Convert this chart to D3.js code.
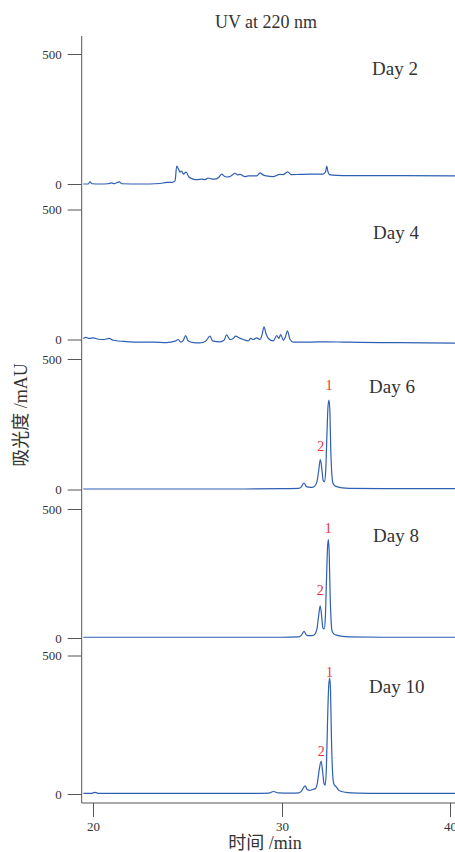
<!DOCTYPE html>
<html>
<head>
<meta charset="utf-8">
<script src="https://cdn.jsdelivr.net/npm/d3@7/dist/d3.min.js"></script>
<style>
  html, body { margin: 0; padding: 0; background: #fff; }
  svg { display: block; }
  text { font-family: "Liberation Serif", "Times New Roman", "Noto Sans CJK SC", serif; fill: #333; }
</style>
</head>
<body>
<svg id="chart" width="455" height="852"></svg>
<script>
// ---------------- DATA ----------------
const chartTitle = "UV at 220 nm";
const xTitle = "时间 /min";
const yTitle = "吸光度 /mAU";
const xTickValues = [20, 30, 40];
const yTickValues = [0, 500];
const dayLabels = ["Day 2", "Day 4", "Day 6", "Day 8", "Day 10"];

// each series: [time (min), absorbance (mAU)]
const day2 = [[19.49,0],[19.74,0],[19.84,8],[19.95,1],[20.37,0],[20.79,1],[20.99,4],[21.11,1],[21.39,8],[21.53,1],[22.49,0],[23.54,2],[23.9,6],[24.18,6],[24.34,12],[24.43,69],[24.52,58],[24.6,46],[24.69,50],[24.78,38],[24.92,46],[25.08,27],[25.29,19],[25.5,17],[25.75,19],[25.93,17],[26.08,23],[26.3,19],[26.54,20],[26.67,27],[26.81,38],[26.93,31],[27.07,27],[27.25,29],[27.51,41],[27.65,35],[27.78,37],[28.04,28],[28.2,31],[28.4,31],[28.66,31],[28.84,43],[29.0,35],[29.18,31],[29.52,28],[29.89,37],[30.06,36],[30.34,47],[30.54,36],[31.07,37],[31.67,38],[32.26,38],[32.44,38],[32.59,46],[32.66,69],[32.74,46],[32.82,36],[33.26,33],[34.05,32],[37.02,32],[40.3,31]];

const day4 = [[19.49,4],[19.63,8],[19.8,4],[20.02,6.5],[20.28,1],[20.54,0],[20.86,4],[21.07,-3],[21.78,-8],[22.49,-10],[23.19,-10],[23.9,-12],[24.34,-6.5],[24.51,0],[24.64,-10],[24.78,-3],[24.9,15],[25.03,-5],[25.31,-12],[25.66,-13],[25.96,-6.5],[26.19,13],[26.33,-5],[26.72,-9],[26.93,-3],[27.07,18],[27.25,0],[27.42,4],[27.55,13],[27.72,6.5],[27.95,0],[28.22,-5],[28.34,4],[28.48,0],[28.66,6.5],[28.84,0],[28.94,17],[29.05,49],[29.15,23],[29.28,4],[29.54,-5],[29.72,15],[29.83,4],[29.93,19],[30.08,-3],[30.2,10],[30.32,33],[30.48,0],[30.67,-10],[31.67,-10],[32.66,-9],[33.65,-10],[34.64,-11],[36.63,-12],[38.61,-13],[40.3,-14]];

const day6 = [[19.49,2],[22,2],[25,2],[28,2],[30,3],[31.0,4],[31.15,10],[31.31,25],[31.44,12],[31.6,9],[31.8,8],[31.95,13],[32.08,30],[32.18,70],[32.28,115],[32.37,80],[32.45,35],[32.53,30],[32.6,70],[32.67,200],[32.74,320],[32.8,343],[32.85,300],[32.9,160],[32.96,65],[33.03,25],[33.15,14],[33.35,9],[33.6,6],[34,4],[36,3],[40.3,3]];

const day8 = [[19.49,3],[20,3],[22,3],[25,3],[28,3],[30,3],[31.0,4],[31.15,10],[31.31,26],[31.45,12],[31.6,9],[31.8,9],[31.95,14],[32.08,35],[32.17,80],[32.27,125],[32.36,85],[32.43,40],[32.51,35],[32.58,80],[32.65,230],[32.71,350],[32.76,381],[32.81,330],[32.86,180],[32.92,70],[32.99,25],[33.1,15],[33.3,10],[33.6,6],[34,4],[36,3],[40.3,3]];

const day10 = [[19.49,2],[19.9,2],[20.1,6],[20.3,2],[22,2],[25,2],[28,2],[29.3,3],[29.55,9],[29.8,4],[30.5,3],[31.0,4],[31.15,10],[31.38,29],[31.5,16],[31.65,13],[31.85,17],[32.0,20],[32.12,45],[32.22,90],[32.33,119],[32.42,80],[32.5,38],[32.57,32],[32.64,90],[32.71,260],[32.78,390],[32.84,418],[32.89,370],[32.94,210],[33.0,90],[33.07,40],[33.15,30],[33.24,25],[33.35,15],[33.5,10],[33.8,6],[34.5,3],[36,2],[40.3,2]];

const seriesList = [day2, day4, day6, day8, day10];

// peak annotations: [panel index, label, time (min), mAU position]
const peakLabels = [
  [2, "1", 32.80, 397], [2, "2", 32.30, 163],
  [3, "1", 32.76, 426], [3, "2", 32.27, 186],
  [4, "1", 32.83, 437], [4, "2", 32.33, 155]
];

// ---------------- LAYOUT ----------------
const W = 455, H = 852;
const axisX = 81.7;
const axisTop = 36, axisBottom = 803;
const panelZeroY = [184, 339.5, 489.5, 638, 794];
const panel500Y = [54, 209.5, 359, 509, 655.5];
const dayLabelPos = [[372, 75], [373, 239], [369, 393], [373, 542], [369, 693]];
const lineColor = "#2f5fb3";
const peakColor = "#e8323a";
const axisColor = "#555";

const svg = d3.select("#chart");

const x = d3.scaleLinear().domain([20, 30, 40]).range([93, 282, 450]);

const line = (y) => d3.line()
  .x(d => x(d[0]))
  .y(d => y(d[1]))
  .curve(d3.curveMonotoneX);

// title
svg.append("text")
  .attr("x", 266).attr("y", 28)
  .attr("text-anchor", "middle")
  .style("font-size", "18px")
  .text(chartTitle);

// panels
seriesList.forEach((data, i) => {
  const y = d3.scaleLinear().domain([0, 500]).range([panelZeroY[i], panel500Y[i]]);
  const g = svg.append("g");

  const ax = g.append("g")
    .attr("transform", `translate(${axisX},0)`)
    .call(d3.axisLeft(y).tickValues(yTickValues).tickSize(14).tickPadding(6).tickFormat(d3.format("d")));
  ax.select(".domain").remove();
  ax.selectAll("line").attr("stroke", axisColor);
  ax.selectAll("text")
    .style("font-family", "'Liberation Serif', serif")
    .style("font-size", "13px")
    .attr("fill", "#333");

  g.append("path")
    .datum(data)
    .attr("fill", "none")
    .attr("stroke", lineColor)
    .attr("stroke-width", 1.2)
    .attr("stroke-linejoin", "round")
    .attr("d", line(y));

  g.append("text")
    .attr("x", dayLabelPos[i][0]).attr("y", dayLabelPos[i][1])
    .style("font-size", "19px")
    .text(dayLabels[i]);

  peakLabels.filter(p => p[0] === i).forEach(p => {
    g.append("text")
      .attr("x", x(p[2])).attr("y", y(p[3]))
      .attr("text-anchor", "middle")
      .attr("dominant-baseline", "central")
      .style("font-size", "14px")
      .style("fill", peakColor)
      .text(p[1]);
  });
});

// vertical axis line
svg.append("line")
  .attr("x1", axisX).attr("x2", axisX)
  .attr("y1", axisTop).attr("y2", axisBottom)
  .attr("stroke", axisColor).attr("stroke-width", 1);

// x axis
const xAx = svg.append("g")
  .attr("transform", `translate(0,${axisBottom})`)
  .call(d3.axisBottom(x).tickValues(xTickValues).tickSize(14).tickPadding(5).tickSizeOuter(0));
xAx.select(".domain").attr("d", `M${axisX},0H${W}`).attr("stroke", axisColor);
xAx.selectAll("line").attr("stroke", axisColor);
xAx.selectAll("text")
  .style("font-family", "'Liberation Serif', serif")
  .style("font-size", "13px")
  .attr("fill", "#333");

// axis titles
svg.append("text")
  .attr("x", 265).attr("y", 843)
  .attr("text-anchor", "middle")
  .attr("dominant-baseline", "central")
  .style("font-size", "18px")
  .text(xTitle);

svg.append("text")
  .attr("transform", "translate(21,415) rotate(-90)")
  .attr("text-anchor", "middle")
  .attr("dominant-baseline", "central")
  .style("font-size", "18px")
  .text(yTitle);
</script>
</body>
</html>
